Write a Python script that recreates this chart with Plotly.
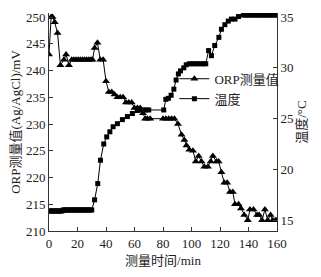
import plotly.graph_objects as go

# ORP measured values (left axis, mV)
orp_t = [0, 1.5, 2.5, 4, 6, 8, 10.5, 12, 14, 16, 17.5, 19, 20.5, 22, 23.5, 25, 26.5, 28, 29.5, 30.5,
         32, 34, 36, 38, 40, 42, 44, 46, 48, 50, 52, 54, 56, 58, 60, 62, 64, 66, 67.5, 69, 71,
         80, 82, 84, 86, 88, 90.5, 93, 95, 96.5, 98.5, 101, 103, 105, 107, 109, 111.5, 113.5,
         115, 117.5, 119, 121, 123, 125, 127, 129, 130.5, 133, 134.7, 137, 139.5, 141, 143.5,
         146, 147.5, 149.5, 151.5, 153.5, 155.5, 157, 159, 160]
orp_v = [243, 250, 250, 249, 247, 241, 242, 243, 241, 242, 242, 242, 242, 242, 242, 242, 242, 242, 242, 242,
         244.2, 245.2, 242, 242, 238, 236, 236, 235.5, 235, 235, 235, 234, 234, 234, 233, 233, 233, 232, 231, 231, 231,
         231, 231, 231, 231, 231, 230, 228, 227, 226, 225.2, 225, 223, 224, 223, 222, 222, 223,
         224, 223, 223, 221, 219, 219, 217.3, 217.3, 215, 215, 214.2, 213, 212, 214, 214,
         213, 213, 212, 214, 212, 213, 212, 212, 212]

# Temperature (right axis, degC)
tmp_t = [0, 1, 2, 3, 4, 5, 6, 7, 8, 9, 10, 11, 12, 13, 14, 15, 16, 17, 18, 19, 20, 21, 22, 23, 24, 25,
         26, 27, 28, 29, 30, 32, 34.2, 36.1, 38.4, 40.5, 42.7, 45, 48, 51.5, 55, 58.5, 62, 64, 66, 68, 70,
         80.5, 82, 83.8, 85.7, 87.6, 89.2, 90.8, 92.3, 94.6, 96.3, 98.5, 100.5, 102.5, 104.5, 106.5, 108.5,
         110, 112, 114, 116.3, 119.2, 121, 123.4, 125.8, 128, 130.5, 133, 136.4, 138, 139.5, 141, 142.5,
         144, 145.5, 147, 148.5, 150, 151.5, 153, 154.5, 156, 157.5, 159, 160]
tmp_v = [15.9, 15.9, 15.9, 15.9, 15.9, 15.9, 15.9, 15.9, 15.9, 15.9, 16, 16, 16, 16, 16, 16, 16, 16, 16, 16,
         16, 16, 16, 16, 16, 16, 16, 16, 16, 16, 16, 17.0, 18.6, 20.9, 22.5, 23.2, 23.7, 24.2, 24.5, 24.9, 25.2,
         25.5, 25.8, 25.85, 25.85, 25.85, 25.85,
         25.85, 26.9, 27.0, 27.3, 27.9, 28.8, 29.4, 29.7, 30.0, 30.3, 30.4, 30.4, 30.4, 30.4, 30.4, 30.4,
         30.4, 31.7, 31.2, 32.2, 33.0, 33.8, 34.25, 34.6, 34.8, 34.8, 35.05, 35.2, 35.2, 35.2, 35.2, 35.2,
         35.2, 35.2, 35.2, 35.2, 35.2, 35.2, 35.2, 35.2, 35.2, 35.2, 35.2, 35.2]

x_ticks = [0, 20, 40, 60, 80, 100, 120, 140, 160]
y_ticks = [210, 215, 220, 225, 230, 235, 240, 245, 250]
y2_ticks = [15, 20, 25, 30, 35]

FONT = "Liberation Serif, Noto Sans CJK SC, serif"

fig = go.Figure()
fig.add_trace(go.Scatter(x=orp_t, y=orp_v, mode="lines+markers", name="ORP测量值",
                         line=dict(color="black", width=1),
                         marker=dict(symbol="triangle-up", size=7, color="black")))
fig.add_trace(go.Scatter(x=tmp_t, y=tmp_v, mode="lines+markers", name="温度", yaxis="y2",
                         line=dict(color="black", width=1),
                         marker=dict(symbol="square", size=5, color="black")))

axis_common = dict(showgrid=False, zeroline=False, showline=True, linecolor="#333",
                   linewidth=1, ticks="inside", ticklen=4, tickcolor="#333",
                   tickfont=dict(family=FONT, size=13, color="#222"))

fig.update_layout(
    width=321, height=277,
    margin=dict(l=49, r=44, t=10, b=46),
    paper_bgcolor="white", plot_bgcolor="white",
    font=dict(family=FONT, size=13, color="#222"),
    xaxis=dict(range=[0, 160], tickvals=x_ticks, title=dict(text="测量时间/min", standoff=6,
               font=dict(family=FONT, size=13)), **axis_common),
    yaxis=dict(range=[210, 250.75], tickvals=y_ticks, title=dict(text="ORP测量值(Ag/AgCl)/mV", standoff=2,
               font=dict(family=FONT, size=13)), **axis_common),
    yaxis2=dict(range=[13.93, 35.4], tickvals=y2_ticks, overlaying="y", side="right",
                title=dict(text="温度/°C", standoff=2, font=dict(family=FONT, size=13)), **axis_common),
    legend=dict(x=0.55, y=0.767, xanchor="left", yanchor="top", bgcolor="rgba(0,0,0,0)",
                font=dict(family=FONT, size=13), itemwidth=30, tracegroupgap=0),
    showlegend=True,
)

fig.write_html("out.html")
